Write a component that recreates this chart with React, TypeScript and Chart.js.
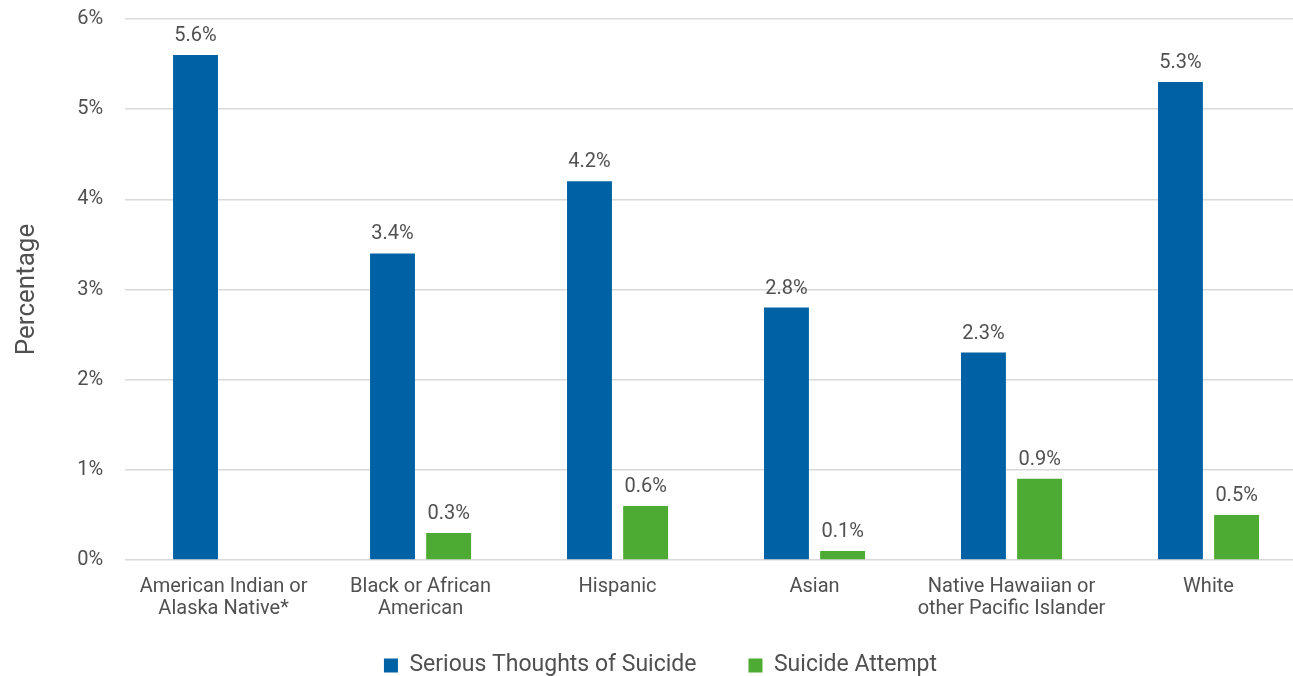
import React, { useEffect, useRef } from "react";
import { Chart, registerables } from "chart.js";

Chart.register(...registerables);

const categories: string[][] = [
  ["American Indian or", "Alaska Native*"],
  ["Black or African", "American"],
  ["Hispanic"],
  ["Asian"],
  ["Native Hawaiian or", "other Pacific Islander"],
  ["White"],
];
const seriousThoughts: (number | null)[] = [5.6, 3.4, 4.2, 2.8, 2.3, 5.3];
const suicideAttempt: (number | null)[] = [null, 0.3, 0.6, 0.1, 0.9, 0.5];
const yTicks: number[] = [0, 1, 2, 3, 4, 5, 6];

const FONT = "Roboto, 'Noto Sans', sans-serif";
const TEXT = "#505050";
const LEGEND_PAD = 52;

const valueLabels = {
  id: "valueLabels",
  afterDatasetsDraw(chart: any) {
    const ctx = chart.ctx;
    ctx.save();
    ctx.font = `20px ${FONT}`;
    ctx.fillStyle = TEXT;
    ctx.textAlign = "center";
    ctx.textBaseline = "bottom";
    chart.data.datasets.forEach((ds: any, di: number) => {
      const meta = chart.getDatasetMeta(di);
      meta.data.forEach((el: any, i: number) => {
        const v = ds.data[i];
        if (v === null || v === undefined) return;
        ctx.fillText(v.toFixed(1) + "%", el.x, el.y - 9);
      });
    });
    ctx.restore();
  },
};

// Keep wide horizontal spacing between legend items while using a compact legend box.
const legendFix = {
  id: "legendFix",
  afterInit(chart: any) {
    const lg = chart.legend;
    if (!lg) return;
    const origFit = lg.fit.bind(lg);
    lg.fit = function () {
      origFit();
      this.height = 48;
    };
  },
  afterLayout(chart: any) {
    const lg = chart.legend;
    if (!lg) return;
    lg.top = 654 - LEGEND_PAD;
    lg.bottom = chart.height;
    lg.height = lg.bottom - lg.top;
    lg.left = 14;
  },
};

export default function App() {
  const ref = useRef<HTMLCanvasElement | null>(null);
  useEffect(() => {
    if (!ref.current) return;
    const chart = new Chart(ref.current, {
      type: "bar",
      data: {
        labels: categories,
        datasets: [
          {
            label: "Serious Thoughts of Suicide",
            data: seriousThoughts,
            backgroundColor: "#0062A5",
            categoryPercentage: 0.57,
            barPercentage: 0.8,
          },
          {
            label: "Suicide Attempt",
            data: suicideAttempt,
            backgroundColor: "#4DAA33",
            categoryPercentage: 0.57,
            barPercentage: 0.8,
          },
        ],
      },
      options: {
        responsive: false,
        animation: false,
        layout: { padding: { top: 19, right: 3, left: 0, bottom: 0 } },
        plugins: {
          legend: {
            position: "bottom",
            labels: {
              boxWidth: 14,
              boxHeight: 14,
              padding: LEGEND_PAD,
              color: TEXT,
              font: { family: FONT, size: 23 },
            },
          },
          tooltip: { enabled: false },
        },
        scales: {
          x: {
            grid: { display: false },
            border: { display: false },
            ticks: {
              color: TEXT,
              font: { family: FONT, size: 20, lineHeight: 1.1 },
              padding: 8,
              maxRotation: 0,
              autoSkip: false,
            },
          },
          y: {
            min: 0,
            max: 6,
            afterBuildTicks: (axis: any) => {
              axis.ticks = yTicks.map((v) => ({ value: v }));
            },
            grid: {
              color: "#d9d9d9",
              lineWidth: 1.5,
              drawTicks: true,
              tickLength: 22,
              tickColor: "rgba(0,0,0,0)",
            },
            border: { display: false },
            ticks: {
              color: TEXT,
              font: { family: FONT, size: 20 },
              padding: 0,
              callback: (v: any) => v + "%",
            },
            title: {
              display: true,
              text: "Percentage",
              color: TEXT,
              font: { family: FONT, size: 26 },
              padding: { top: 12, bottom: 34 },
            },
          },
        },
      },
      plugins: [valueLabels, legendFix],
    });
    return () => chart.destroy();
  }, []);
  return (
    <div
      style={{
        position: "absolute",
        left: 0,
        top: 0,
        width: 1293,
        height: 676,
        overflow: "hidden",
        background: "#fff",
      }}
    >
      <canvas ref={ref} width={1310} height={676} style={{ width: 1310, height: 676, display: "block" }} />
    </div>
  );
}
